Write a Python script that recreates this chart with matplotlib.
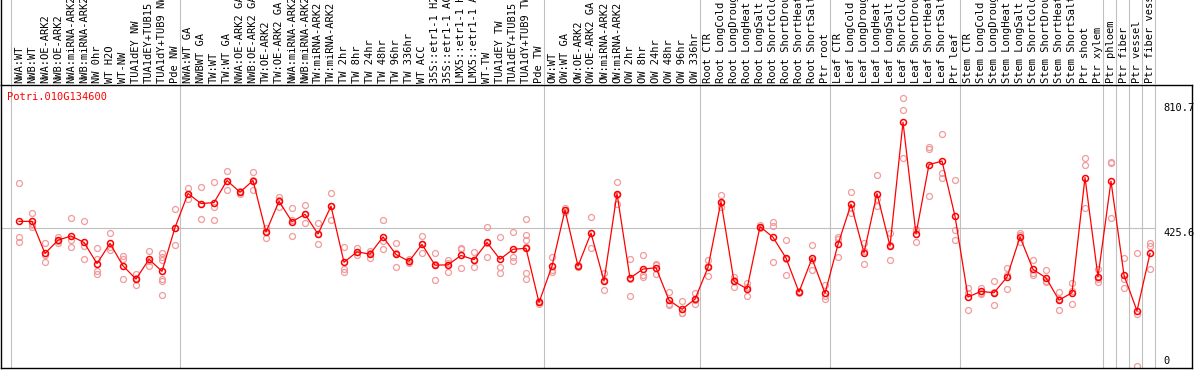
import matplotlib
matplotlib.use("Agg")
import matplotlib.pyplot as plt

# sample labels, one per column
labels = [
    "NWA:WT", "NWB:WT", "NWA:OE-ARK2", "NWB:OE-ARK2", "NWA:miRNA-ARK2", "NWB:miRNA-ARK2",
    "NW 0hr", "WT H2O", "WT-NW", "TUA1dEY NW", "TUA1dEY+TUB15", "TUA1dY+TUB9 NW", "Pde NW",
    "NWA:WT GA", "NWBWT GA", "TW:WT", "TW:WT GA", "NWA:OE-ARK2 GA", "NWB:OE-ARK2 GA",
    "TW:OE-ARK2", "TW:OE-ARK2 GA", "NWA:miRNA-ARK2", "NWB:miRNA-ARK2", "TW:miRNA-ARK2",
    "TW:miRNA-ARK2", "TW 2hr", "TW 8hr", "TW 24hr", "TW 48hr", "TW 96hr", "TW 336hr", "WT ACC",
    "35S::etr1-1 H2", "35S::etr1-1 AC", "LMX5::etr1-1 H", "LMX5::etr1-1 A", "WT-TW",
    "TUA1dEY TW", "TUA1dEY+TUB15", "TUA1dY+TUB9 TW", "Pde TW",
    "OW:WT", "OW:WT GA", "OW:OE-ARK2", "OW:OE-ARK2 GA", "OW:miRNA-ARK2", "OW:miRNA-ARK2",
    "OW 2hr", "OW 8hr", "OW 24hr", "OW 48hr", "OW 96hr", "OW 336hr",
    "Root CTR", "Root LongCold", "Root LongDroug", "Root LongHeat", "Root LongSalt",
    "Root ShortCold", "Root ShortDrou", "Root ShortHeat", "Root ShortSalt", "Ptr root",
    "Leaf CTR", "Leaf LongCold", "Leaf LongDroug", "Leaf LongHeat", "Leaf LongSalt",
    "Leaf ShortCold", "Leaf ShortDrou", "Leaf ShortHeat", "Leaf ShortSalt", "Ptr leaf",
    "Stem CTR", "Stem LongCold", "Stem LongDroug", "Stem LongHeat", "Stem LongSalt",
    "Stem ShortCold", "Stem ShortDrou", "Stem ShortHeat", "Stem ShortSalt", "Ptr shoot",
    "Ptr xylem", "Ptr phloem", "Ptr fiber", "Ptr vessel", "Ptr fiber vessel",
]

# mean expression per column
means = [
    446, 446, 347, 388, 401, 381, 316, 378, 309, 268, 329, 292, 427,
    532, 501, 504, 572, 536, 572, 413, 508, 445, 468, 407, 493, 320, 352, 345, 398, 344,
    323, 375, 311, 312, 341, 328, 381, 329, 360, 363, 196,
    308, 481, 308, 410, 262, 532, 271, 299, 303, 203, 175, 206,
    304, 507, 261, 238, 430, 397, 333, 228, 332, 224,
    375, 499, 349, 532, 370, 752, 407, 621, 632, 462,
    213, 230, 226, 274, 398, 298, 272, 203, 226, 581, 275,
    570, 280, 170, 347,
]

# replicate values per column
reps = [
    [564, 398, 382], [471, 429, 438], [380, 320, 341], [398, 380, 386], [455, 388, 368],
    [446, 370, 329], [364, 330, 294, 285], [410, 357, 367], [339, 331, 267], [283, 250, 271],
    [354, 309, 324], [349, 337, 327, 267, 262, 218], [483, 372, 426],
    [549, 515, 532], [551, 452, 500], [569, 491, 449], [600, 544, 572], [540, 532, 536],
    [597, 544, 575], [427, 395, 417], [522, 491, 511], [486, 400, 449], [495, 440, 469],
    [440, 375, 406], [535, 450, 494], [366, 299, 291], [363, 342, 351], [355, 332, 348],
    [449, 360, 385], [378, 306, 348], [330, 320, 319], [400, 350, 375], [349, 316, 265],
    [327, 291, 318], [364, 360, 302], [351, 306, 327], [430, 335, 378], [398, 306, 286],
    [413, 337, 324], [452, 404, 390, 368, 286, 267], [201, 191, 196],
    [337, 291, 296], [486, 476, 481], [312, 304, 308], [458, 363, 409], [286, 234, 266],
    [569, 501, 526], [329, 216, 268], [341, 275, 281], [316, 283, 310], [229, 191, 189],
    [200, 162, 163], [224, 191, 203],
    [327, 277, 308], [527, 491, 503], [275, 244, 264], [255, 216, 243], [434, 426, 430],
    [445, 431, 320], [390, 280, 329], [228, 226, 230], [372, 296, 328], [250, 206, 216],
    [397, 337, 391], [538, 472, 487], [378, 314, 355], [588, 493, 515], [409, 327, 374],
    [825, 791, 640], [421, 381, 419], [676, 669, 524], [715, 594, 581], [573, 419, 390],
    [242, 224, 173], [242, 222, 226], [262, 188, 228], [303, 239, 280], [409, 381, 404],
    [327, 280, 287], [296, 262, 258], [228, 173, 208], [255, 191, 232], [640, 619, 486],
    [299, 258, 268],
    [629, 455, 626], [332, 267, 242], [350, 160, 0], [380, 371, 298],
]

# last column index of each group (gray separators after them)
group_ends = [12, 40, 52, 62, 72, 83, 84, 85, 86, 87]
ref_ticks = [810.7, 425.6, 0]
gene = "Potri.010G134600"

W, H = 1194, 370
fig = plt.figure(figsize=(W / 100, H / 100), dpi=100)
plt.rcParams['font.family'] = ['DejaVu Sans Mono']
fs = 7.5

# pixel helpers: column i sits at x = 19 + 13*i, value 0 at y=366, 425.6 at y=228
k = 425.6 / 138.0
xl = (-18 / 13, (1192 - 19) / 13)

def box(x0, x1, ytop, ybot):
    return [x0 / W, 1 - ybot / H, (x1 - x0) / W, (ybot - ytop) / H]

ax = fig.add_axes(box(1, 1192, 85, 368))
hd = fig.add_axes(box(1, 1192, 0, 85))

ax.set_xlim((1 - 19) / 13, xl[1])
ax.set_ylim(-2 * k, 281 * k)
hd.set_xlim((1 - 19) / 13, xl[1])
hd.set_ylim(0, 85)

gray = '#c0c0c0'
seps = [-0.615] + [e + 0.385 for e in group_ends]
for s in seps:
    ax.axvline(s, color=gray, lw=0.8, zorder=1)
    hd.axvline(s, color=gray, lw=0.8, zorder=1)
ax.plot([ax.get_xlim()[0], group_ends[-1] + 0.385], [ref_ticks[1]] * 2,
        color=gray, lw=0.8, zorder=1)

xs = list(range(len(means)))
for i, r in enumerate(reps):
    ax.plot([i] * len(r), r, 'o', ms=4.3, mfc='none', mec='#f29b9b', mew=0.9,
            zorder=2, clip_on=True)
ax.plot(xs, means, '-', color='#ff0000', lw=0.9, zorder=3)
ax.plot(xs, means, 'o', ms=4.3, mfc='none', mec='#ff0000', mew=1.1, zorder=4)

for i, lab in enumerate(labels):
    hd.text(i, 2, lab, rotation=90, ha='center', va='bottom', fontsize=fs,
            clip_on=False)

xlab = (1163 - 19) / 13
ax.text(xlab, ref_ticks[0], "810.7", ha='left', va='top', fontsize=fs)
ax.text(xlab, ref_ticks[1], "425.6", ha='left', va='top', fontsize=fs)
ax.text(xlab, ref_ticks[2], "0", ha='left', va='bottom', fontsize=fs)

fig.text(7 / W, 1 - 97 / H, gene, color='#ff0000', fontsize=fs, va='center', ha='left')

for a in (ax, hd):
    a.set_xticks([])
    a.set_yticks([])
for sp in ax.spines.values():
    sp.set_color('black')
    sp.set_linewidth(1.0)
for name in ('top', 'right', 'bottom'):
    hd.spines[name].set_visible(False)
hd.spines['left'].set_linewidth(1.0)
hd.patch.set_alpha(0)

fig.savefig("out.png", dpi=100)
